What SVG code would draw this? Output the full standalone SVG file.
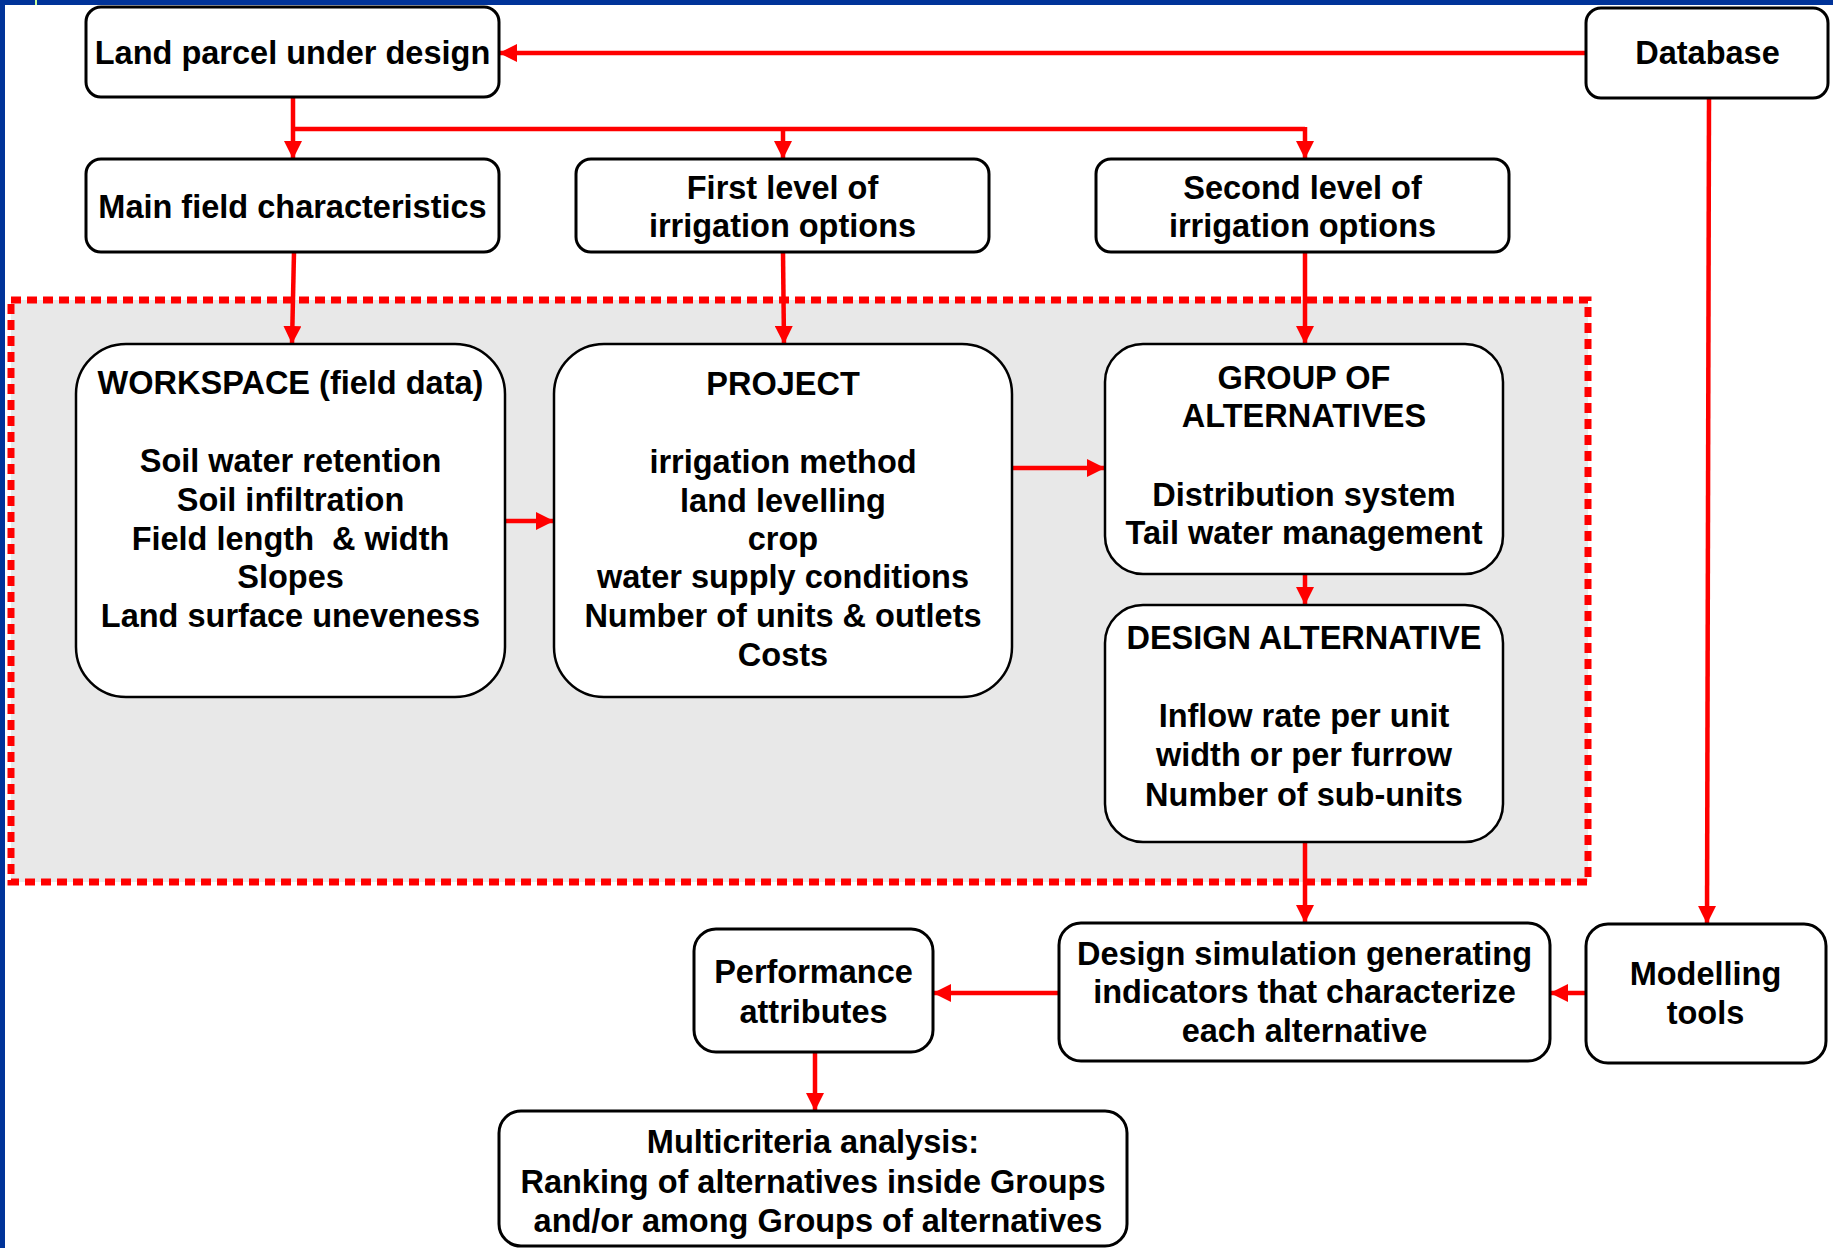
<svg xmlns="http://www.w3.org/2000/svg" width="1833" height="1248" viewBox="0 0 1833 1248">
<defs>
<marker id="ah" markerUnits="userSpaceOnUse" markerWidth="18" markerHeight="18" refX="18" refY="9" orient="auto">
<path d="M0,0 L18,9 L0,18 Z" fill="#ff0000"/>
</marker>
<style>
.box{fill:#ffffff;stroke:#000000;stroke-width:3}
.big{fill:#ffffff;stroke:#000000;stroke-width:2.5}
.t{font-family:"Liberation Sans",Arial,sans-serif;font-weight:bold;font-size:32.5px;fill:#000000;text-anchor:middle}
.c{fill:none;stroke:#ff0000;stroke-width:4.5}
.a{fill:none;stroke:#ff0000;stroke-width:4.5;marker-end:url(#ah)}
</style>
</defs>
<rect x="0" y="0" width="1833" height="1248" fill="#ffffff"/>
<rect x="0" y="0" width="1833" height="5" fill="#003399"/>
<rect x="0" y="0" width="5" height="1248" fill="#003399"/>
<rect x="35" y="0" width="2" height="5" fill="#ccff99"/>

<g id="region">
<rect x="11" y="300" width="1577" height="582" fill="#e8e8e8" stroke="#ff0000" stroke-width="7" stroke-dasharray="10 6"/>
</g>

<g id="connectors">
<line class="a" x1="1586" y1="53" x2="499" y2="53"/>
<line class="a" x1="293" y1="97" x2="293" y2="159"/>
<polyline class="c" points="293,129 1305,129"/>
<line class="a" x1="783" y1="129" x2="783" y2="159"/>
<line class="a" x1="1305" y1="127" x2="1305" y2="159"/>
<line class="a" x1="294" y1="252" x2="292" y2="344"/>
<line class="a" x1="783" y1="252" x2="784" y2="344"/>
<line class="a" x1="1305" y1="252" x2="1305" y2="344"/>
<line class="a" x1="505" y1="521" x2="554" y2="521"/>
<line class="a" x1="1012" y1="468" x2="1105" y2="468"/>
<line class="a" x1="1305" y1="574" x2="1305" y2="605"/>
<line class="a" x1="1305" y1="842" x2="1305" y2="923"/>
<line class="a" x1="1709" y1="98" x2="1707" y2="924"/>
<line class="a" x1="1586" y1="993" x2="1550" y2="993"/>
<line class="a" x1="1059" y1="993" x2="933" y2="993"/>
<line class="a" x1="815" y1="1052" x2="815" y2="1111"/>
</g>

<g id="land-parcel">
<rect class="box" x="86" y="7" width="413" height="90" rx="15"/>
<text class="t" x="292.5" y="64">Land parcel under design</text>
</g>

<g id="database">
<rect class="box" x="1586" y="8" width="242" height="90" rx="15"/>
<text class="t" x="1707.5" y="64">Database</text>
</g>

<g id="main-field">
<rect class="box" x="86" y="159" width="413" height="93" rx="15"/>
<text class="t" x="292.5" y="218">Main field characteristics</text>
</g>

<g id="first-level">
<rect class="box" x="576" y="159" width="413" height="93" rx="15"/>
<text class="t" x="782.5" y="199">First level of</text>
<text class="t" x="782.5" y="237">irrigation options</text>
</g>

<g id="second-level">
<rect class="box" x="1096" y="159" width="413" height="93" rx="15"/>
<text class="t" x="1302.5" y="199">Second level of</text>
<text class="t" x="1302.5" y="237">irrigation options</text>
</g>

<g id="workspace">
<rect class="big" x="76" y="344" width="429" height="353" rx="50"/>
<text class="t" x="290.5" y="394">WORKSPACE (field data)</text>
<text class="t" x="290.5" y="472">Soil water retention</text>
<text class="t" x="290.5" y="511">Soil infiltration</text>
<text class="t" x="290.5" y="550" xml:space="preserve">Field length  &amp; width</text>
<text class="t" x="290.5" y="588">Slopes</text>
<text class="t" x="290.5" y="627">Land surface uneveness</text>
</g>

<g id="project">
<rect class="big" x="554" y="344" width="458" height="353" rx="50"/>
<text class="t" x="783" y="395">PROJECT</text>
<text class="t" x="783" y="473">irrigation method</text>
<text class="t" x="783" y="512">land levelling</text>
<text class="t" x="783" y="550">crop</text>
<text class="t" x="783" y="588">water supply conditions</text>
<text class="t" x="783" y="627">Number of units &amp; outlets</text>
<text class="t" x="783" y="666">Costs</text>
</g>

<g id="group-of-alternatives">
<rect class="big" x="1105" y="344" width="398" height="230" rx="38"/>
<text class="t" x="1304" y="389">GROUP OF</text>
<text class="t" x="1304" y="427">ALTERNATIVES</text>
<text class="t" x="1304" y="506">Distribution system</text>
<text class="t" x="1304" y="544">Tail water management</text>
</g>

<g id="design-alternative">
<rect class="big" x="1105" y="605" width="398" height="237" rx="38"/>
<text class="t" x="1304" y="649">DESIGN ALTERNATIVE</text>
<text class="t" x="1304" y="727">Inflow rate per unit</text>
<text class="t" x="1304" y="766">width or per furrow</text>
<text class="t" x="1304" y="806">Number of sub-units</text>
</g>

<g id="design-simulation">
<rect class="box" x="1059" y="923" width="491" height="138" rx="22"/>
<text class="t" x="1304.5" y="965">Design simulation generating</text>
<text class="t" x="1304.5" y="1003">indicators that characterize</text>
<text class="t" x="1304.5" y="1042">each alternative</text>
</g>

<g id="modelling-tools">
<rect class="box" x="1586" y="924" width="240" height="139" rx="22"/>
<text class="t" x="1705.5" y="985">Modelling</text>
<text class="t" x="1705.5" y="1024">tools</text>
</g>

<g id="performance">
<rect class="box" x="694" y="929" width="239" height="123" rx="22"/>
<text class="t" x="813.5" y="983">Performance</text>
<text class="t" x="813.5" y="1023">attributes</text>
</g>

<g id="multicriteria">
<rect class="box" x="499" y="1111" width="628" height="135" rx="22"/>
<text class="t" x="813" y="1153">Multicriteria analysis:</text>
<text class="t" x="813" y="1193">Ranking of alternatives inside Groups</text>
<text class="t" x="818" y="1232">and/or among Groups of alternatives</text>
</g>
</svg>
